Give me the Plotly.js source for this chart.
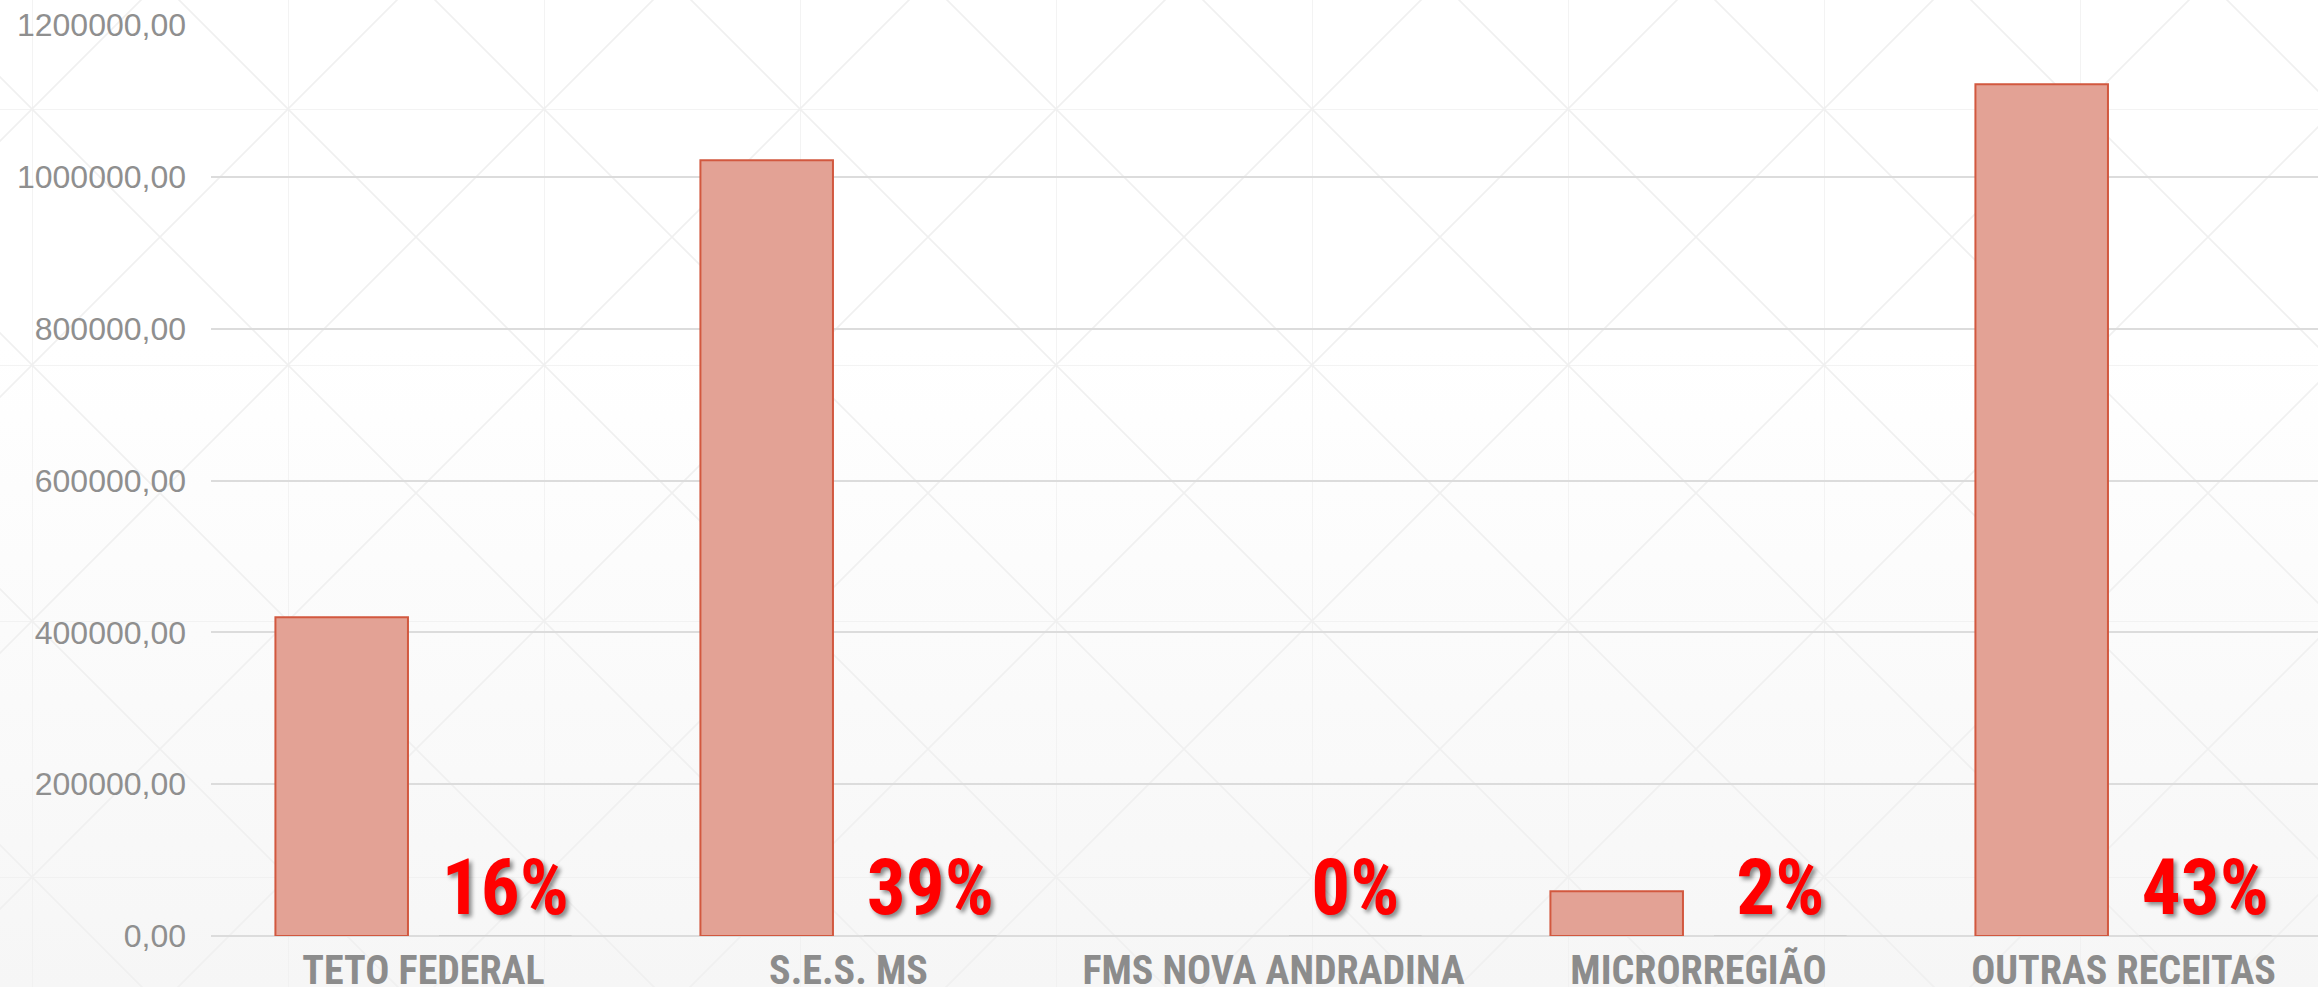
<!DOCTYPE html>
<html><head><meta charset="utf-8">
<script src="https://cdn.plot.ly/plotly-3.0.1.min.js"></script>
<style>
html,body{margin:0;padding:0;overflow:hidden;width:2318px;height:987px;background:#fff;}
#wrap{position:absolute;left:0;top:0;width:2318px;height:987px;overflow:hidden;
background-image:url("data:image/svg+xml,%3Csvg xmlns='http://www.w3.org/2000/svg' width='256' height='256'%3E%3Cg stroke='%23f0f0f0' stroke-width='1.6' fill='none'%3E%3Cpath d='M0 0V256M0 0H256M0 0L256 256M256 0L0 256'/%3E%3C/g%3E%3C/svg%3E"),linear-gradient(to bottom,#ffffff 0%,#ffffff 35%,#f6f6f6 100%);
background-position:32px 109px,0 0;background-repeat:repeat,no-repeat;background-size:256px 256px,100% 100%;}
#chart{position:absolute;left:0;top:0;width:2336px;height:987px;}
</style></head><body><div id="wrap"><div id="chart"></div></div>
<script>
const categories = ['TETO FEDERAL','S.E.S. MS','FMS NOVA ANDRADINA','MICRORREGIÃO','OUTRAS RECEITAS'];
const values = [420000, 1022000, 0, 59000, 1122000];
const shares = [0.16, 0.39, 0, 0.02, 0.43];
const yTicks = [0, 200000, 400000, 600000, 800000, 1000000, 1200000];

const narrow = '"Roboto Condensed", "Liberation Sans Narrow", "Arial Narrow", sans-serif';

const traceValues = {
  type: 'bar', x: categories, y: values,
  marker: {color: '#e3a295', line: {color: '#d2583f', width: values.map(v => v > 0 ? 2 : 0)}},
  hoverinfo: 'skip', showlegend: false
};
const traceShares = {
  type: 'bar', x: categories, y: shares,
  text: shares.map(s => Math.round(s * 100) + '%'),
  textposition: 'outside', constraintext: 'none', cliponaxis: false,
  textfont: {family: narrow, size: 77, color: '#ff0000', weight: 'bold', shadow: '3px 3px 4px rgba(0,0,0,0.45)'},
  marker: {color: 'rgba(0,0,0,0)', line: {color: '#cfcfcf', width: 2}},
  hoverinfo: 'skip', showlegend: false
};

const layout = {
  width: 2336, height: 987,
  margin: {l: 211, r: 0, t: 25, b: 51},
  paper_bgcolor: 'rgba(0,0,0,0)', plot_bgcolor: 'rgba(0,0,0,0)',
  barmode: 'group', bargap: 0.23, bargroupgap: 0.19,
  separators: ',.',
  showlegend: false,
  xaxis: {
    type: 'category', showgrid: false, zeroline: false, showline: false, ticks: '',
    tickfont: {family: narrow, size: 40, color: '#8c8c8c', weight: 'bold'},
    ticklabelstandoff: 7
  },
  yaxis: {
    range: [0, 1200000], tickvals: yTicks, tickformat: '.2f',
    showgrid: true, gridcolor: '#dcdcdc', gridwidth: 2,
    zeroline: true, zerolinecolor: '#dcdcdc', zerolinewidth: 2,
    showline: false, ticks: '',
    tickfont: {family: '"Liberation Sans", Arial, sans-serif', size: 32, color: '#8f8f8f'},
    ticklabelstandoff: 24
  }
};
Plotly.newPlot('chart', [traceValues, traceShares], layout, {displayModeBar: false, staticPlot: true});
</script></body></html>
